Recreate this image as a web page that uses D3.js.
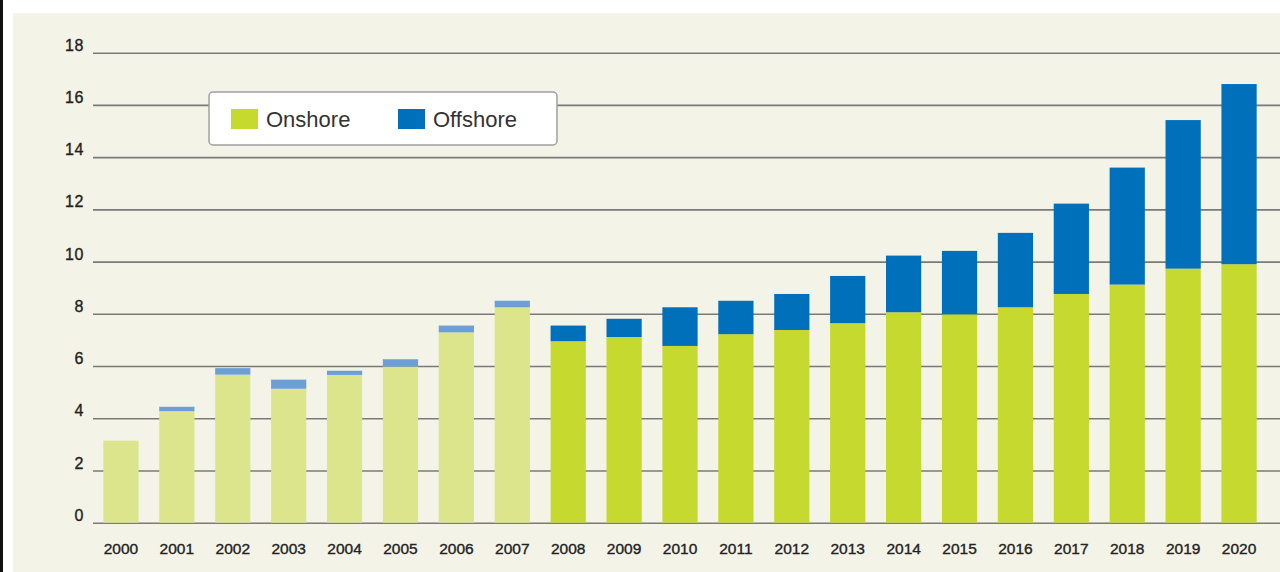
<!DOCTYPE html>
<html>
<head>
<meta charset="utf-8">
<script src="https://cdn.jsdelivr.net/npm/d3@7"></script>
<style>
  body { margin: 0; background: #fff; }
  svg { display: block; }
  .tick text { font-family: Arial, "Liberation Sans", sans-serif; fill: #222; stroke: #222; stroke-width: 0.35px; }
</style>
</head>
<body>
<div id="chart"></div>
<script>
// years on the x axis
var years = ['2000','2001','2002','2003','2004','2005','2006','2007','2008','2009','2010',
             '2011','2012','2013','2014','2015','2016','2017','2018','2019','2020'];
// onshore / offshore values
var onshore  = [3.14, 4.27, 5.67, 5.13, 5.66, 5.98, 7.29, 8.25, 6.95, 7.11, 6.77,
                7.22, 7.38, 7.64, 8.06, 7.98, 8.25, 8.76, 9.12, 9.73, 9.90];
var offshore = [0, 0.17, 0.25, 0.35, 0.16, 0.28, 0.26, 0.25, 0.60, 0.70, 1.48,
                1.28, 1.38, 1.81, 2.17, 2.43, 2.85, 3.46, 4.48, 5.69, 6.90];
var yTicks = [0, 2, 4, 6, 8, 10, 12, 14, 16, 18];
var seriesNames = ['Onshore', 'Offshore'];
var lastHistoric = '2007';

var W = 1280, H = 572;

var svg = d3.select('#chart').append('svg')
    .attr('width', W).attr('height', H);

// frame: black strip left, beige panel
svg.append('rect').attr('x', 0).attr('y', 0).attr('width', 3).attr('height', H).attr('fill', '#111');
svg.append('rect').attr('x', 13).attr('y', 13).attr('width', W - 13).attr('height', H - 13)
    .attr('fill', '#f4f3e8');

var x = d3.scaleBand().domain(years).range([93, 1267]).paddingInner(0.37).paddingOuter(0.185);
var y = d3.scaleLinear().domain([0, 18]).range([522.7, 52.7]);

// gridlines + y labels
var yAxis = svg.append('g')
    .attr('transform', 'translate(93,0)')
    .call(d3.axisRight(y).tickValues(yTicks).tickSize(W - 93).tickFormat(d3.format('d')));
yAxis.select('.domain').remove();
yAxis.selectAll('.tick line').attr('stroke', '#7a7a7a').attr('stroke-width', 1.6);
yAxis.selectAll('.tick text')
    .attr('x', -9).attr('dy', '-0.15em')
    .attr('text-anchor', 'end')
    .style('font-size', '16px')
    .style('letter-spacing', '0.6px');

var stackData = years.map(function (yr, i) {
    return {year: yr, Onshore: onshore[i], Offshore: offshore[i]};
});
var stacked = d3.stack().keys(seriesNames)(stackData);

function barColor(key, yr) {
    var old = yr <= lastHistoric;
    if (key == 'Onshore') return old ? '#dce58b' : '#c5d92e';
    return old ? '#6b9fd6' : '#0070bb';
}

svg.append('g').selectAll('g')
    .data(stacked)
    .enter()
    .append('g')
    .selectAll('rect')
    .data(function (s) { return s.map(function (d) { d.key = s.key; return d; }); })
    .enter()
    .append('rect')
    .attr('x', function (d) { return x(d.data.year); })
    .attr('width', x.bandwidth())
    .attr('y', function (d) { return y(d[1]); })
    .attr('height', function (d) { return Math.max(0, y(d[0]) - y(d[1])); })
    .attr('fill', function (d) { return barColor(d.key, d.data.year); });

// x labels
var xAxis = svg.append('g')
    .attr('transform', 'translate(0,' + 540 + ')')
    .call(d3.axisBottom(x).tickSize(0));
xAxis.select('.domain').remove();
xAxis.selectAll('.tick text')
    .attr('y', 3)
    .style('font-size', '15.5px');

// legend
var legend = svg.append('g').attr('transform', 'translate(209,92)');
legend.append('rect')
    .attr('width', 348).attr('height', 53).attr('rx', 4)
    .attr('fill', '#fff').attr('stroke', '#a0a0a0').attr('stroke-width', 1.5);
var legX = [22, 189];
var item = legend.selectAll('g.item')
    .data(seriesNames)
    .enter()
    .append('g')
    .attr('transform', function (d, i) { return 'translate(' + legX[i] + ',17)'; });
item.append('rect')
    .attr('width', 27).attr('height', 20)
    .attr('fill', function (d) { return barColor(d, '2020'); });
item.append('text')
    .attr('x', 35).attr('y', 18)
    .style('font-family', 'Arial, "Liberation Sans", sans-serif')
    .style('font-size', '22px')
    .attr('fill', '#333')
    .text(function (d) { return d; });
</script>
</body>
</html>
